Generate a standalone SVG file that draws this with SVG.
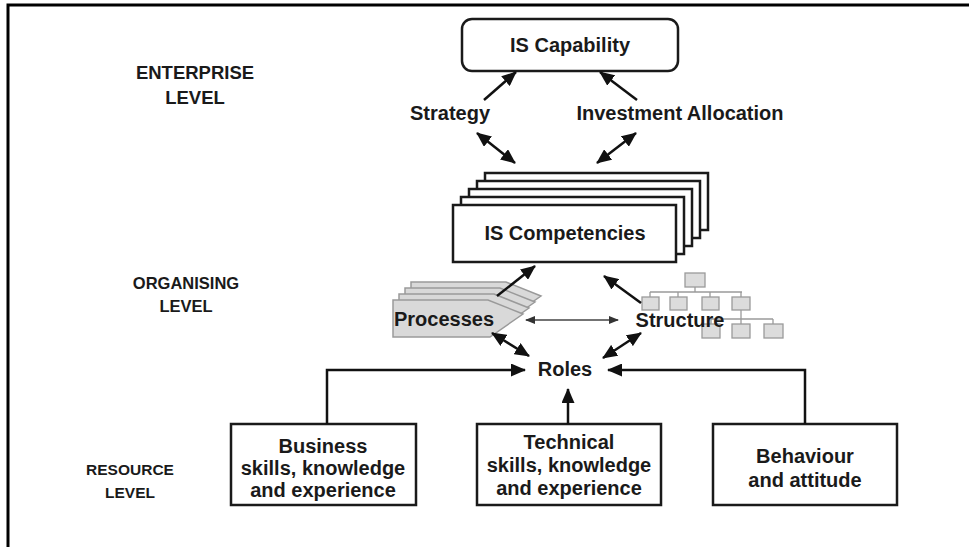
<svg xmlns="http://www.w3.org/2000/svg" width="969" height="547" viewBox="0 0 969 547">
<style>
text{font-family:"Liberation Sans",Arial,sans-serif;font-weight:bold;fill:#1a1a1a;text-anchor:middle}
.lvl{font-size:17px}
.t{font-size:20px}
.box{fill:#fff;stroke:#1a1a1a;stroke-width:2.5}
.pr{fill:#d9d9d9;stroke:#9a9a9a;stroke-width:1.5}
.org{fill:#dcdcdc;stroke:#9a9a9a;stroke-width:1.3}
.orgl{stroke:#9a9a9a;stroke-width:1.3;fill:none}
.c{stroke:#111;stroke-width:2.5;fill:none}
.thin{stroke:#444;stroke-width:1.3;fill:none}
</style>
<defs>
<marker id="ah" markerUnits="userSpaceOnUse" markerWidth="15" markerHeight="13" refX="14" refY="6.5" orient="auto-start-reverse"><path d="M0,0 L15,6.5 L0,13 z" fill="#111"/></marker>
<marker id="ahs" markerUnits="userSpaceOnUse" markerWidth="10" markerHeight="8" refX="9" refY="4" orient="auto-start-reverse"><path d="M0,0 L10,4 L0,8 z" fill="#333"/></marker>
</defs>
<rect width="969" height="547" fill="#fff"/>
<g id="frame"><path d="M8,547 V5 H969" fill="none" stroke="#000" stroke-width="3"/></g>

<g id="levels">
<text class="lvl" x="195" y="79" style="font-size:18.5px">ENTERPRISE</text>
<text class="lvl" x="195" y="104" style="font-size:18.5px">LEVEL</text>
<text class="lvl" x="186" y="289" style="font-size:16.5px">ORGANISING</text>
<text class="lvl" x="186" y="312" style="font-size:16.5px">LEVEL</text>
<text class="lvl" x="130" y="475" style="font-size:15.5px">RESOURCE</text>
<text class="lvl" x="130" y="498" style="font-size:15.5px">LEVEL</text>
</g>

<g id="is-capability">
<rect class="box" x="462" y="19" width="216" height="52" rx="10"/>
<text class="t" x="570" y="52">IS Capability</text>
</g>

<g id="strategy"><text class="t" x="450" y="120">Strategy</text></g>
<g id="investment"><text class="t" x="680" y="120">Investment Allocation</text></g>

<g id="is-competencies">
<rect class="box" x="485" y="173" width="223" height="57"/>
<rect class="box" x="477" y="181" width="223" height="57"/>
<rect class="box" x="469" y="189" width="223" height="57"/>
<rect class="box" x="461" y="197" width="223" height="57"/>
<rect class="box" x="453" y="205" width="223" height="57"/>
<text class="t" x="565" y="240">IS Competencies</text>
</g>

<g id="processes">
<polygon class="pr" points="411,282 506,282 541,296 508,319 411,319"/>
<polygon class="pr" points="405,288 500,288 535,302 502,325 405,325"/>
<polygon class="pr" points="399,294 494,294 529,308 496,331 399,331"/>
<polygon class="pr" points="393,300 488,300 523,314 490,337 393,337"/>
<text class="t" x="444" y="326">Processes</text>
</g>

<g id="structure">
<rect class="org" x="685" y="273" width="20" height="14"/>
<path class="orgl" d="M695,287 V292 M650,292 H742 M650,292 V297 M678,292 V297 M710,292 V297 M741,292 V297 M741,310 V319 M711,319 H773 M711,319 V324 M741,319 V324 M773,319 V324"/>
<rect class="org" x="642" y="297" width="17" height="13"/>
<rect class="org" x="670" y="297" width="17" height="13"/>
<rect class="org" x="702" y="297" width="17" height="13"/>
<rect class="org" x="732" y="297" width="18" height="13"/>
<rect class="org" x="702" y="324" width="18" height="14"/>
<rect class="org" x="732" y="324" width="18" height="14"/>
<rect class="org" x="764" y="324" width="19" height="14"/>
<text class="t" x="680" y="327">Structure</text>
</g>

<g id="roles"><text class="t" x="565" y="376">Roles</text></g>

<g id="business">
<rect class="box" x="231" y="424" width="185" height="81"/>
<text class="t" x="323" y="453">Business</text>
<text class="t" x="323" y="475">skills, knowledge</text>
<text class="t" x="323" y="497">and experience</text>
</g>
<g id="technical">
<rect class="box" x="477" y="424" width="184" height="81"/>
<text class="t" x="569" y="449">Technical</text>
<text class="t" x="569" y="472">skills, knowledge</text>
<text class="t" x="569" y="495">and experience</text>
</g>
<g id="behaviour">
<rect class="box" x="713" y="424" width="184" height="81"/>
<text class="t" x="805" y="463">Behaviour</text>
<text class="t" x="805" y="487">and attitude</text>
</g>

<g id="connectors">
<line class="c" x1="484" y1="100" x2="516" y2="72" marker-end="url(#ah)"/>
<line class="c" x1="637" y1="100" x2="600" y2="72" marker-end="url(#ah)"/>
<line class="c" x1="477" y1="133" x2="515" y2="163" marker-start="url(#ah)" marker-end="url(#ah)"/>
<line class="c" x1="636" y1="133" x2="597" y2="163" marker-start="url(#ah)" marker-end="url(#ah)"/>
<line class="c" x1="497" y1="296" x2="535" y2="266" marker-end="url(#ah)"/>
<line class="c" x1="641" y1="303" x2="604" y2="276" marker-end="url(#ah)"/>
<line class="thin" x1="526" y1="320" x2="618" y2="320" marker-start="url(#ahs)" marker-end="url(#ahs)"/>
<line class="c" x1="492" y1="333" x2="529" y2="356" marker-start="url(#ah)" marker-end="url(#ah)"/>
<line class="c" x1="641" y1="333" x2="603" y2="358" marker-start="url(#ah)" marker-end="url(#ah)"/>
<polyline class="c" points="327,424 327,370 525,370" marker-end="url(#ah)"/>
<polyline class="c" points="805,424 805,370 608,370" marker-end="url(#ah)"/>
<line class="c" x1="568" y1="424" x2="568" y2="389" marker-end="url(#ah)"/>
</g>
</svg>
